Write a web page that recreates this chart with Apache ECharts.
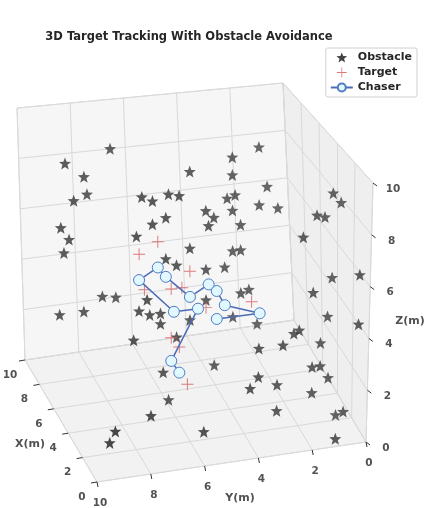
<!DOCTYPE html>
<html><head><meta charset="utf-8">
<script src="https://cdn.jsdelivr.net/npm/echarts@6/dist/echarts.min.js"></script>
<style>html,body{margin:0;padding:0;background:#fff}#c{width:436px;height:508px}</style>
</head><body><div id="c"></div>
<script>
// ---- data (3D, metres) ----
const obstacleX = [8,8,8,8,8,8,8,8,8,8,8,8,5,5,5,5,5,5,5,5,5,5,5,5,5,5,5,5,5,5,5,5,5,5,5,5,5,5,5,5,5,5,5,5,5,5,5,5,5,5,5,5,5,5,5,5,3,2,2,2,2,2,2,2,2,2,2,2,2,2,2,2,2,2,1,0,2,2,2,2,2,2,0,2,2,0];
const obstacleY = [7.2,8.9,8.2,8.1,8.6,9.1,8.8,9.0,7.6,7.1,9.2,8.3,7.0,7.2,7.3,6.6,6.0,5.6,5.2,6.1,6.6,5.2,4.6,4.3,4.5,3.8,3.5,3.6,3.6,3.6,2.6,2.3,2.6,1.9,3.3,3.6,3.3,3.9,4.6,5.7,6.1,6.8,7.1,6.7,6.3,6.3,5.2,4.6,3.3,3.0,3.6,2.7,5.7,6.2,6.0,4.3,7.2,8.8,9.0,5.5,3.5,2.6,1.2,2.2,2.0,1.5,1.2,0.9,3.5,3.8,2.8,1.5,2.8,0.6,0.6,1.15,0.8,0.5,1.4,1.1,1.9,0.8,0.4,1.5,0.95,0.4];
const obstacleZ = [8.9,8.5,7.9,7.2,7.0,6.0,5.5,5.0,3.1,3.0,2.6,2.6,8.2,6.7,2.7,8.0,8.2,8.1,9.0,7.3,7.1,6.0,7.4,7.1,6.8,7.8,7.9,7.3,9.4,8.7,9.7,8.1,7.4,7.2,6.7,5.7,5.7,5.1,5.1,5.4,5.7,4.2,3.8,3.6,3.6,3.2,3.2,3.9,4.0,4.1,3.1,2.7,2.6,1.3,0.2,1.3,0.7,0.8,0.4,0.3,3.2,3.2,3.1,3.6,3.7,2.2,2.2,1.7,2.1,1.7,1.7,1.2,0.7,0.2,0.8,0.3,8.9,8.5,8.1,8.0,7.3,5.6,6.5,5.1,4.1,4.6];
const targetX = [5,5,5,5,5,5,5,5,5,5,5];
const targetY = [6.4,7.1,5.2,5.9,5.5,6.9,4.6,2.9,5.9,5.6,5.3];
const targetZ = [6.4,6.0,5.1,4.5,4.5,4.6,3.6,3.6,2.6,2.2,0.7];
const chaserX = [5,5,5,5,5,5,5,5,5,5,5,5,5];
const chaserY = [4.2,2.6,3.9,4.2,4.5,5.2,6.1,6.4,7.1,5.8,4.9,5.9,5.6];
const chaserZ = [3.1,3.1,3.6,4.2,4.5,4.1,5.0,5.4,5.0,3.6,3.6,1.7,1.2];
const ticks = [0,2,4,6,8,10];
const titleText = '3D Target Tracking With Obstacle Avoidance';

// ---- projection (view: elev ~25, azim ~ -20) ----
function P(x,y,z){
  return [366-7.2*x-26.9*y+z*(0.7-0.18*x+0.03*y),
          442-12.2*x+4*y+z*(-25.9+0.22*x-0.15*y)];
}
const F = 'DejaVu Sans';
const panes = [
  {pts:[[0,0,0],[10,0,0],[10,10,0],[0,10,0]], c:'#f2f2f2'},
  {pts:[[10,0,0],[10,10,0],[10,10,10],[10,0,10]], c:'#f6f6f6'},
  {pts:[[0,0,0],[10,0,0],[10,0,10],[0,0,10]], c:'#efefef'}
];
const gridSeg = [];
ticks.forEach(t=>{
  gridSeg.push([P(t,0,0),P(t,10,0)]); gridSeg.push([P(0,t,0),P(10,t,0)]);
  gridSeg.push([P(10,t,0),P(10,t,10)]); gridSeg.push([P(10,0,t),P(10,10,t)]);
  gridSeg.push([P(t,0,0),P(t,0,10)]); gridSeg.push([P(0,0,t),P(10,0,t)]);
});
const tickSeg = [];
const labels = [];
ticks.forEach(t=>{
  const a=P(t,10,0); tickSeg.push([a,[a[0]-6,a[1]+1]]); labels.push([a[0]-15,a[1]+15,String(t)]);
  const b=P(0,t,0); tickSeg.push([b,[b[0]+1,b[1]+5]]); labels.push([b[0]+3,b[1]+21,String(t)]);
  const c=P(0,0,t); tickSeg.push([c,[c[0]+4,c[1]+3]]); labels.push([c[0]+20,c[1]+6,String(t)]);
});
const axisNames = [[30,444,'X(m)'],[240,498,'Y(m)'],[410,321,'Z(m)']];

const obsData = obstacleX.map((x,i)=>{
  const p=P(x,obstacleY[i],obstacleZ[i]);
  const depth = x + (10-obstacleY[i]);
  const a = Math.max(0.6, 1.05 - depth*0.035);
  const g = Math.round(20 + (1-Math.min(1,a))*120);
  return {value:p, itemStyle:{color:'rgb('+g+','+g+','+g+')'}};
});
const tgtData = targetX.map((x,i)=>P(x,targetY[i],targetZ[i]));
const chData = chaserX.map((x,i)=>P(x,chaserY[i],chaserZ[i]));

const star='path://M0,-10 L2.6,-3.4 9.8,-3.2 4.1,1.3 6.1,8.3 0,4.4 -6.1,8.3 -4.1,1.3 -9.8,-3.2 -2.6,-3.4Z';
const plus='path://M-0.8,-10 L0.8,-10 0.8,-0.8 10,-0.8 10,0.8 0.8,0.8 0.8,10 -0.8,10 -0.8,0.8 -10,0.8 -10,-0.8 -0.8,-0.8Z';

const chart = echarts.init(document.getElementById('c'),null,{renderer:'canvas'});
chart.setOption({
  animation:false,
  title:{text:titleText,left:184,top:26,textAlign:'center',textStyle:{fontFamily:F,fontSize:11.5,fontWeight:'bold',color:'#262626'}},
  legend:{right:19,top:48,orient:'vertical',itemGap:4,itemWidth:22,itemHeight:10,padding:[4,5,4,4],
    borderColor:'#d0d0d0',borderWidth:1,borderRadius:2,backgroundColor:'#fff',
    textStyle:{fontFamily:F,fontSize:11,fontWeight:'bold',color:'#262626'},
    data:[{name:'Obstacle',icon:star},{name:'Target',icon:plus},{name:'Chaser'}]},
  grid:{left:0,right:0,top:0,bottom:0},
  xAxis:{type:'value',min:0,max:436,show:false},
  yAxis:{type:'value',min:0,max:508,inverse:true,show:false},
  series:[
    {type:'custom',silent:true,z:1,data:[0,1,2],renderItem:(params,api)=>{
      const pn=panes[api.value(0)];
      return {type:'polygon',shape:{points:pn.pts.map(q=>api.coord(P(q[0],q[1],q[2])))},
        style:{fill:pn.c,stroke:'#dcdcdc',lineWidth:1}};
    }},
    {type:'lines',coordinateSystem:'cartesian2d',silent:true,z:2,
      data:gridSeg.map(s=>({coords:s})),lineStyle:{color:'#d9d9d9',width:1,opacity:1}},
    {type:'lines',coordinateSystem:'cartesian2d',silent:true,z:2,
      data:tickSeg.map(s=>({coords:s})),lineStyle:{color:'#333',width:1,opacity:1}},
    {type:'scatter',silent:true,z:3,symbolSize:0,data:labels,
      label:{show:true,position:'inside',formatter:p=>p.value[2],fontFamily:F,fontSize:10.5,fontWeight:'bold',color:'#262626'}},
    {type:'scatter',silent:true,z:3,symbolSize:0,data:axisNames,
      label:{show:true,position:'inside',formatter:p=>p.value[2],fontFamily:F,fontSize:11,fontWeight:'bold',color:'#262626'}},
    {name:'Obstacle',type:'scatter',z:4,symbol:star,symbolSize:12,data:obsData,itemStyle:{color:'#111'}},
    {name:'Target',type:'scatter',z:5,symbol:plus,symbolSize:12,data:tgtData,itemStyle:{color:'#d65a5a'}},
    {name:'Chaser',type:'line',z:6,symbol:'circle',symbolSize:11,data:chData,
      lineStyle:{color:'#4a6db5',width:1.5},itemStyle:{color:'#e2f8ff',borderColor:'#4f7cc4',borderWidth:1}}
  ]
});
</script></body></html>
